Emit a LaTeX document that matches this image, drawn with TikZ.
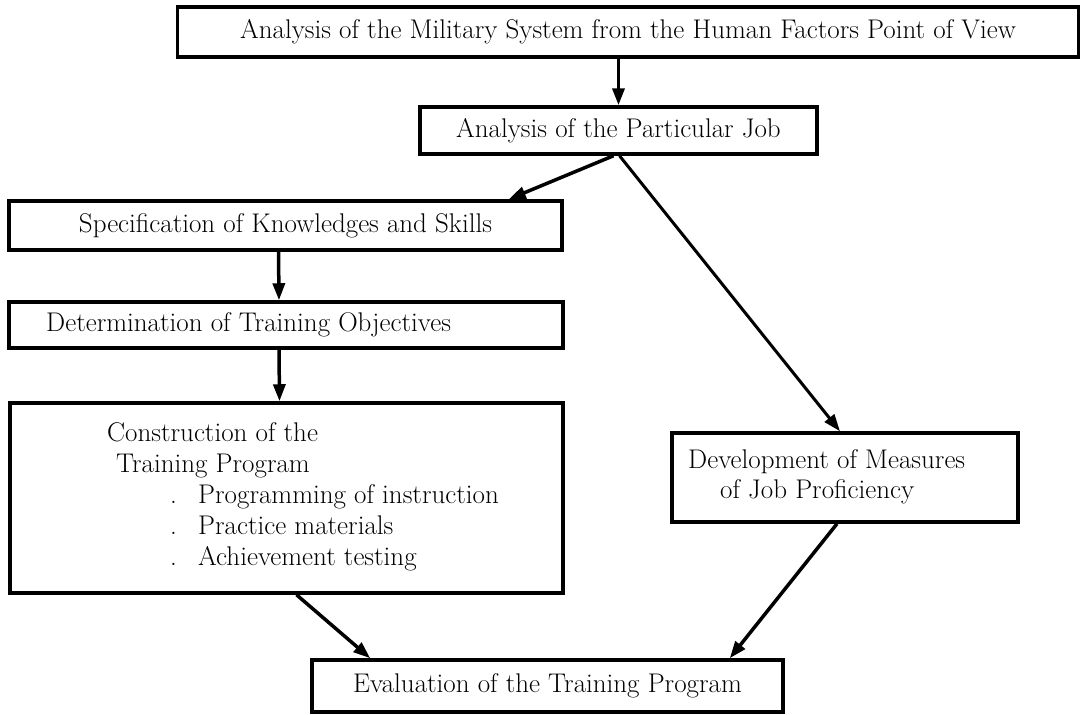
\documentclass[tikz,border=0pt]{standalone}
\usepackage{fontspec}
\usetikzlibrary{arrows.meta}
\begin{document}
\begin{tikzpicture}[x=1pt,y=-1pt,
  box/.style={draw, line width=3.5pt, inner sep=0pt},
  txt/.style={inner sep=0pt, font=\fontsize{27}{31}\selectfont},
  arr/.style={line width=3.5pt, -{Triangle[length=17pt,width=12pt]}},
  thinarr/.style={arr, line width=3pt},
]
\useasboundingbox (0,0) rectangle (1082,715);

% boxes with centred text
\node[box, txt, minimum width=901pt, minimum height=50pt] (sys) at (628,32)
  {Analysis of the Military System from the Human Factors Point of View};
\node[box, txt, minimum width=397pt, minimum height=47pt] (job) at (618.5,130.5)
  {Analysis of the Particular Job};
\node[box, txt, minimum width=553pt, minimum height=49pt] (spec) at (285.5,225.5)
  {Specification of Knowledges and Skills};
\node[box, txt, minimum width=471pt, minimum height=52pt] (eval) at (547.5,686)
  {Evaluation of the Training Program};

% boxes whose text is set separately
\node[box, minimum width=554pt, minimum height=46pt] (det) at (286,325) {};
\node[txt, anchor=west] (dett) at (46,325) {Determination of Training Objectives};

\node[box, minimum width=553pt, minimum height=190pt] (cons) at (286.5,498) {};
\node[txt, anchor=base west] (c1) at (107,441) {Construction of the};
\node[txt, anchor=base west] (c2) at (116,472) {Training Program};
\node[txt, anchor=base west] (c3) at (170,503) {\makebox[28pt][l]{.}Programming of instruction};
\node[txt, anchor=base west] (c4) at (170,534) {\makebox[28pt][l]{.}Practice materials};
\node[txt, anchor=base west] (c5) at (170,565) {\makebox[28pt][l]{.}Achievement testing};

\node[box, minimum width=346pt, minimum height=89pt] (dev) at (845,477.5) {};
\node[txt, anchor=base west] (d1) at (688,468) {Development of Measures};
\node[txt, anchor=base west] (d2) at (720,498) {of Job Proficiency};

% connectors
\draw[arr] (sys.south -| job.north) -- (job.north);
\draw[arr] ([xshift=-5pt]job.south) -- ([xshift=-55pt]spec.north east);
\draw[thinarr] ([xshift=1pt]job.south) -- ([xshift=-5pt]dev.north);
\draw[arr] ([xshift=-7pt]spec.south) -- ([xshift=-7pt]det.north);
\draw[arr] ([xshift=-7pt]det.south) -- ([xshift=-7pt]cons.north);
\draw[arr] ([xshift=10pt]cons.south) -- ([xshift=60pt]eval.north west);
\draw[arr] ([xshift=-8pt]dev.south) -- ([xshift=-55pt]eval.north east);
\end{tikzpicture}
\end{document}
